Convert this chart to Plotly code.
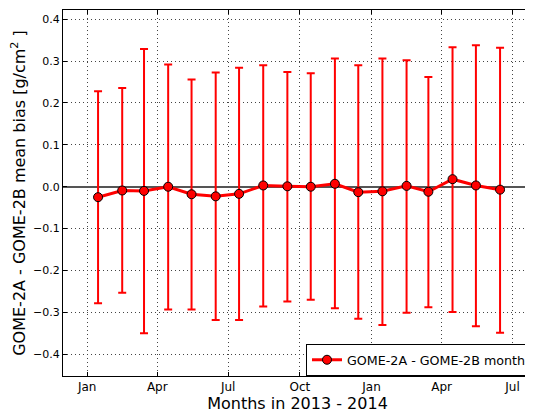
import plotly.graph_objects as go

months = ["2013-01-15", "2013-02-15", "2013-03-15", "2013-04-15", "2013-05-15", "2013-06-15",
          "2013-07-15", "2013-08-15", "2013-09-15", "2013-10-15", "2013-11-15", "2013-12-15",
          "2014-01-15", "2014-02-15", "2014-03-15", "2014-04-15", "2014-05-15", "2014-06-15"]
mean_bias = [-0.025, -0.009, -0.010, 0.000, -0.018, -0.023, -0.017, 0.003, 0.001, 0.000,
             0.007, -0.013, -0.011, 0.002, -0.012, 0.018, 0.003, -0.007]
upper = [0.228, 0.236, 0.329, 0.292, 0.256, 0.273, 0.284, 0.290, 0.274, 0.271,
         0.306, 0.290, 0.306, 0.302, 0.262, 0.333, 0.338, 0.332]
lower = [-0.278, -0.253, -0.350, -0.293, -0.293, -0.318, -0.318, -0.286, -0.274, -0.270,
         -0.290, -0.315, -0.330, -0.301, -0.288, -0.299, -0.333, -0.349]
y_ticks = [-0.4, -0.3, -0.2, -0.1, 0.0, 0.1, 0.2, 0.3, 0.4]

err_plus = [u - m for u, m in zip(upper, mean_bias)]
err_minus = [m - l for m, l in zip(mean_bias, lower)]

font = "DejaVu Sans"

fig = go.Figure()
fig.add_trace(go.Scatter(
    x=months, y=mean_bias, mode="lines+markers",
    name="GOME-2A - GOME-2B month",
    line=dict(color="#ff0000", width=3),
    marker=dict(color="#ff0000", size=9, line=dict(color="black", width=1)),
    error_y=dict(type="data", symmetric=False, array=err_plus, arrayminus=err_minus,
                 color="#ff0000", thickness=2, width=4),
))

# page body has an 8px default margin, so the figure is sized to fill the window
fig.update_layout(
    width=525, height=405,
    margin=dict(l=55, r=1, t=2, b=37),
    paper_bgcolor="white", plot_bgcolor="white",
    font=dict(family=font, size=11, color="black"),
    showlegend=True,
    legend=dict(x=1, y=0, xanchor="right", yanchor="bottom",
                bordercolor="black", borderwidth=1, bgcolor="white",
                font=dict(size=12.7), itemwidth=30,
                tracegroupgap=0),
)
fig.update_xaxes(
    type="date", range=["2012-12-01", "2014-07-26"],
    tick0="2013-01-01", dtick="M3", tickformat="%b",
    showline=True, linecolor="black", linewidth=1, mirror="ticks",
    ticks="inside", ticklen=4, tickcolor="black",
    showgrid=True, gridcolor="#444444", griddash="1px,3px", gridwidth=1,
    title=dict(text="Months in 2013 - 2014", font=dict(size=16), standoff=5),
    tickfont=dict(size=12), automargin=False,
)
fig.update_yaxes(
    range=[-0.452, 0.422], tickvals=y_ticks, tickformat=".1f",
    showline=True, linecolor="black", linewidth=1, mirror="ticks",
    ticks="inside", ticklen=4, tickcolor="black",
    showgrid=True, gridcolor="#444444", griddash="1px,3px", gridwidth=1,
    zeroline=True, zerolinecolor="#555555", zerolinewidth=1.5,
    title=dict(text="GOME-2A - GOME-2B mean bias [g/cm<sup>2</sup> ]", font=dict(size=16), standoff=7),
    tickfont=dict(size=11), automargin=False,
)

fig.write_html("out.html")
